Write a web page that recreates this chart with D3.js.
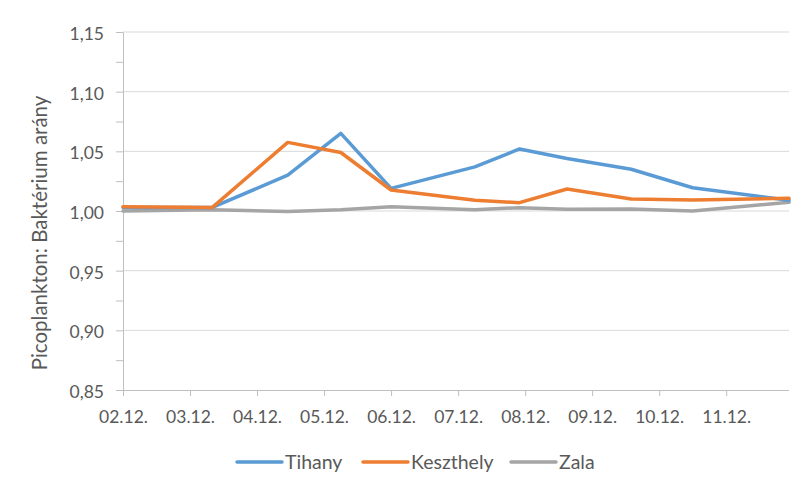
<!DOCTYPE html>
<html><head><meta charset="utf-8">
<script src="https://cdn.jsdelivr.net/npm/d3@7"></script>
<style>body{margin:0;background:#fff}svg{display:block}</style>
</head><body>
<script>
const dates = ["2014-12-02T00:00","2014-12-03T08:00","2014-12-04T11:00","2014-12-05T06:00","2014-12-06T00:00","2014-12-07T06:00","2014-12-07T22:00","2014-12-08T15:00","2014-12-09T14:00","2014-12-10T12:00","2014-12-11T22:30"];
const tihany    = [1.003,1.003,1.030,1.065,1.019,1.037,1.052,1.044,1.035,1.0195,1.009];
const keszthely = [1.0035,1.003,1.0575,1.049,1.0176,1.009,1.007,1.0184,1.010,1.0092,1.0106];
const zala      = [1.000,1.001,0.9995,1.001,1.0036,1.001,1.0028,1.0014,1.0017,1.000,1.0073];
const seriesNames = ["Tihany","Keszthely","Zala"];
const colors = ["#5B9BD5","#ED7D31","#A5A5A5"];
const yTicks = [0.85,0.90,0.95,1.00,1.05,1.10,1.15];
const xTickDates = ["2014-12-02","2014-12-03","2014-12-04","2014-12-05","2014-12-06","2014-12-07","2014-12-08","2014-12-09","2014-12-10","2014-12-11"];
const yTitle = "Picoplankton: Baktérium arány";

const W=801,H=488, L=123,R=789,T=32,B=390;
const font = "Lato, 'Liberation Sans', sans-serif";
const parse = d3.isoParse;
const svg = d3.select("body").append("svg").attr("width",W).attr("height",H);

const x = d3.scaleTime().domain([parse(xTickDates[0]), parse(dates[dates.length-1])]).range([L,R]);
const y = d3.scaleLinear().domain([0.85,1.15]).range([B,T]);

// gridlines
svg.append("g").selectAll("line").data(yTicks.slice(1)).join("line")
  .attr("x1",L).attr("x2",R).attr("y1",d=>y(d)).attr("y2",d=>y(d))
  .attr("stroke","#d9d9d9").attr("stroke-width",1);

// y axis (major + minor ticks)
const fmt = d => d3.format(".2f")(d).replace(".",",");
const minor = d3.range(0,13).map(i=>0.85+i*0.025);
const yAxis = svg.append("g").attr("transform",`translate(${L},0)`)
  .call(d3.axisLeft(y).tickValues(minor).tickSize(7).tickSizeOuter(0).tickFormat((d,i)=> i%2===0 ? fmt(yTicks[i/2]) : ""));
yAxis.select(".domain").attr("stroke","#bfbfbf");
yAxis.selectAll(".tick line").attr("stroke","#bfbfbf");
yAxis.selectAll(".tick text").attr("fill","#595959").attr("font-family",font).attr("font-size",17.5).attr("x",-19).attr("dy","0.42em");

// x axis
const xAxis = svg.append("g").attr("transform",`translate(0,${B})`)
  .call(d3.axisBottom(x).tickValues(xTickDates.map(parse)).tickSize(6).tickSizeOuter(0).tickFormat(d3.timeFormat("%d.%m.")));
xAxis.select(".domain").attr("stroke","#bfbfbf").attr("d",`M${L},0.5H${R}`);
xAxis.selectAll(".tick line").attr("stroke","#bfbfbf");
xAxis.selectAll(".tick text").attr("fill","#595959").attr("font-family",font).attr("font-size",17.5).attr("dy",0).attr("y",33);

// y title
svg.append("text").attr("transform",`translate(47,${(T+B)/2+22}) rotate(-90)`).attr("text-anchor","middle")
  .attr("fill","#595959").attr("font-family",font).attr("font-size",20.5).text(yTitle);

// lines
const allSeries = [tihany,keszthely,zala];
const line = d3.line().x((d,i)=>x(parse(dates[i]))).y(d=>y(d));
[2,0,1].forEach(k=>{
  svg.append("path").datum(allSeries[k]).attr("d",line).attr("fill","none")
    .attr("stroke",colors[k]).attr("stroke-width",3.5).attr("stroke-linejoin","round").attr("stroke-linecap","round");
});

// legend
const legX = [237,363,511];
const leg = svg.append("g");
seriesNames.forEach((n,i)=>{
  leg.append("line").attr("x1",legX[i]).attr("x2",legX[i]+45).attr("y1",462).attr("y2",462)
    .attr("stroke",colors[i]).attr("stroke-width",3.5).attr("stroke-linecap","round");
  leg.append("text").attr("x",legX[i]+48).attr("y",462).attr("dy","0.36em").attr("fill","#595959")
    .attr("font-family",font).attr("font-size",19.5).text(n);
});
</script>
</body></html>
